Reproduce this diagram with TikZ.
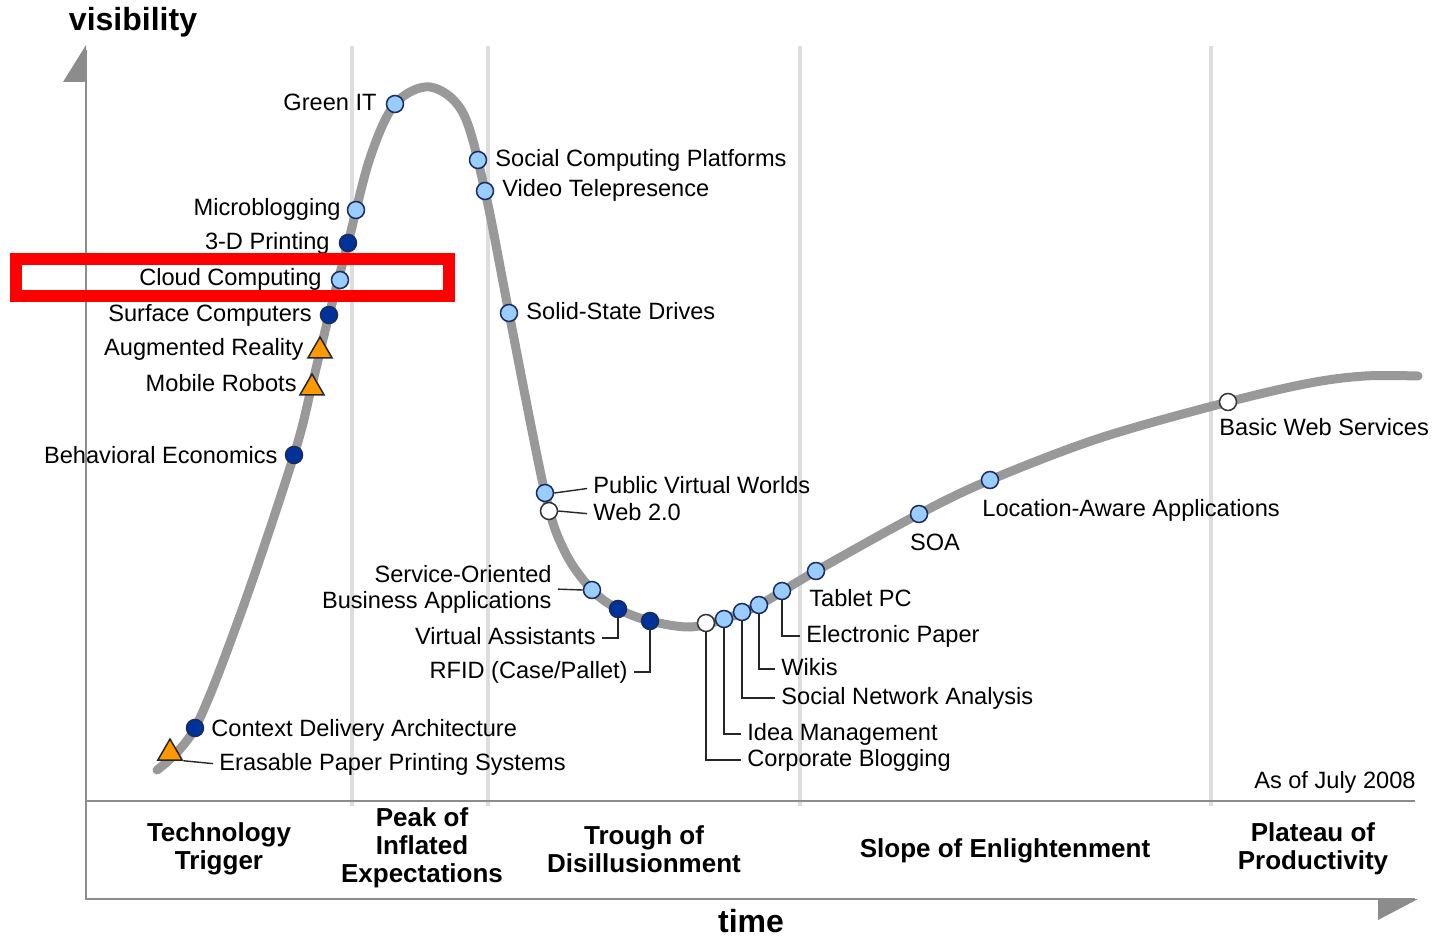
\documentclass[tikz,border=0pt]{standalone}
\usepackage{fontspec}
\setmainfont{Liberation Sans}
\usetikzlibrary{shapes.geometric}

\definecolor{kurvegrau}{HTML}{999999}
\definecolor{phasegrau}{HTML}{DDDDDD}
\definecolor{achsgrau}{HTML}{8C8C8C}
\definecolor{hellblau}{HTML}{99CCFF}
\definecolor{dunkelblau}{HTML}{003399}
\definecolor{randblau}{HTML}{1A2B5C}
\definecolor{orange}{HTML}{FF9900}

\tikzset{
	txt/.style={font=\fontsize{11.8}{13}\selectfont, inner sep=1pt, text=black},
	lbl/.style={txt, text height=8.5pt, text depth=2.5pt},
	phase/.style={font=\fontsize{13}{14}\selectfont\bfseries, align=center, inner sep=0pt},
	axlabel/.style={font=\fontsize{16}{18}\selectfont\bfseries, inner sep=0pt},
	dotlight/.style={circle, draw=randblau, fill=hellblau, line width=0.75pt, minimum size=8.5pt, inner sep=0pt},
	dotdark/.style={dotlight, fill=dunkelblau},
	dotwhite/.style={dotlight, draw=black!80, fill=white},
	dottri/.style={regular polygon, regular polygon sides=3, draw=black!85, fill=orange, line width=0.75pt, minimum size=14pt, inner sep=0pt},
	leader/.style={draw=black!85, line width=0.7pt, shorten >=2pt},
	phaseline/.style={draw=phasegrau, line width=2pt},
	axis/.style={draw=achsgrau, line width=1pt},
	hype/.style={draw=kurvegrau, line width=4.5pt, line cap=round}
}

\begin{document}
\begin{tikzpicture}[x=0.5pt, y=-0.5pt]
	\useasboundingbox (0,0) rectangle (1433,940);

	% Phasenlinien
	\foreach \x in {352,488,800,1211}
		\draw[phaseline] (\x,46) -- (\x,806);

	% Achsen
	\draw[axis] (86,50) -- (86,899) -- (1415,899);
	\draw[axis] (86,801) -- (1415,801);
	\fill[achsgrau] (86,45) -- (86,82) -- (63,82) -- cycle;
	\fill[achsgrau] (1418,899) -- (1378,899) -- (1378,920) -- cycle;
	\node[axlabel] (vis) at (133,22) {visibility};
	\node[axlabel] (time) at (751,921) {time};

	% Hype-Kurve
	\draw[hype] plot[smooth, tension=0.55] coordinates {(157,770) (195,728)
	(242,610) (294,455) (312,385) (329,315) (348,243) (370,158) (395,104)
	(430,87) (463,113) (485,191) (509,313) (545,493) (565,552) (592,590)
	(618,609) (650,621) (690,627) (724,619) (759,605) (816,571) (919,514)
	(990,480) (1100,438) (1228,402) (1310,383) (1365,376) (1418,376)};

	% Technologien, linker Ast
	\node[dottri] (epps) at (170,753) {};
	\node[lbl, anchor=west] (eppslbl) at (217,764) {Erasable Paper Printing Systems};
	\node[dotdark] (cda) at (195,728) {};
	\node[lbl, anchor=west] (cdalbl) at (209,730) {Context Delivery Architecture};
	\node[dotdark] (behav) at (294,455) {};
	\node[lbl, anchor=east] (behavlbl) at (280,458) {Behavioral Economics};
	\node[dottri] (robots) at (312,388) {};
	\node[lbl, anchor=east] (robotslbl) at (299,386) {Mobile Robots};
	\node[dottri] (ar) at (320,351) {};
	\node[lbl, anchor=east] (arlbl) at (306,350) {Augmented Reality};
	\node[dotdark] (surface) at (329,315) {};
	\node[lbl, anchor=east] (surfacelbl) at (314,316) {Surface Computers};
	\node[dotlight] (cloud) at (340,280) {};
	\node[lbl, anchor=east] (cloudlbl) at (324,280) {Cloud Computing};
	\node[dotdark] (print) at (348,243) {};
	\node[lbl, anchor=east] (printlbl) at (332,244) {3-D Printing};
	\node[dotlight] (micro) at (356,210) {};
	\node[lbl, anchor=east] (microlbl) at (343,210) {Microblogging};
	\node[dotlight] (green) at (395,104) {};
	\node[lbl, anchor=east] (greenlbl) at (379,105) {Green IT};

	% Technologien, Abstieg
	\node[dotlight] (scp) at (478,160) {};
	\node[lbl, anchor=west] (scplbl) at (493,161) {Social Computing Platforms};
	\node[dotlight] (vt) at (485,191) {};
	\node[lbl, anchor=west] (vtlbl) at (500,191) {Video Telepresence};
	\node[dotlight] (ssd) at (509,313) {};
	\node[lbl, anchor=west] (ssdlbl) at (524,314) {Solid-State Drives};
	\node[dotlight] (pvw) at (545,493) {};
	\node[lbl, anchor=west] (pvwlbl) at (591,488) {Public Virtual Worlds};
	\node[dotwhite] (web) at (549,511) {};
	\node[lbl, anchor=west] (weblbl) at (591,514) {Web 2.0};
	\draw[leader] (pvw.east) -- (pvwlbl.west);
	\draw[leader] (web.east) -- (weblbl.west);
	\draw[leader] (epps.corner 3) -- (eppslbl.west);

	% Talsohle
	\node[dotlight] (soba) at (592,590) {};
	\node[txt, align=right, anchor=east] (sobalbl) at (554,589)
		{Service-Oriented\\Business Applications};
	\node[dotdark] (va) at (618,609) {};
	\node[lbl, anchor=east] (valbl) at (598,638) {Virtual Assistants};
	\node[dotdark] (rfid) at (650,621) {};
	\node[lbl, anchor=east] (rfidlbl) at (630,672) {RFID (Case/Pallet)};
	\draw[leader] (soba.west) -- (sobalbl.east);
	\draw[leader] (va.south) |- (valbl.east);
	\draw[leader] (rfid.south) |- (rfidlbl.east);

	% Technologien, Pfad der Erleuchtung
	\node[dotwhite] (cb) at (706,623) {};
	\node[lbl, anchor=west] (cblbl) at (745,760) {Corporate Blogging};
	\node[dotlight] (im) at (724,619) {};
	\node[lbl, anchor=west] (imlbl) at (745,734) {Idea Management};
	\node[dotlight] (sna) at (742,612) {};
	\node[lbl, anchor=west] (snalbl) at (779,698) {Social Network Analysis};
	\node[dotlight] (wikis) at (759,605) {};
	\node[lbl, anchor=west] (wikislbl) at (779,669) {Wikis};
	\node[dotlight] (ep) at (782,591) {};
	\node[lbl, anchor=west] (eplbl) at (804,636) {Electronic Paper};
	\draw[leader] (cb.south) |- (cblbl.west);
	\draw[leader] (im.south) |- (imlbl.west);
	\draw[leader] (sna.south) |- (snalbl.west);
	\draw[leader] (wikis.south) |- (wikislbl.west);
	\draw[leader] (ep.south) |- (eplbl.west);
	\node[dotlight] (tpc) at (816,571) {};
	\node[lbl, anchor=west] (tpclbl) at (807,600) {Tablet PC};
	\node[dotlight] (soa) at (919,514) {};
	\node[lbl] (soalbl) at (935,544) {SOA};
	\node[dotlight] (la) at (990,480) {};
	\node[lbl, anchor=west] (lalbl) at (980,510) {Location-Aware Applications};
	\node[dotwhite] (bws) at (1228,402) {};
	\node[lbl, anchor=west] (bwslbl) at (1217,430) {Basic Web Services};
	\node[lbl, anchor=east] (stand) at (1418,782) {As of July 2008};

	% Phasen
	\node[phase] (trigger) at (219,849) {Technology\\Trigger};
	\node[phase] (peak) at (422,848) {Peak of\\Inflated\\Expectations};
	\node[phase] (trough) at (644,849) {Trough of\\Disillusionment};
	\node[phase] (slope) at (1005,851) {Slope of Enlightenment};
	\node[phase] (plateau) at (1313,849) {Plateau of\\Productivity};

	% Markierung
	\draw[red, line width=6pt] (16,259) rectangle (449,296);
\end{tikzpicture}
\end{document}
